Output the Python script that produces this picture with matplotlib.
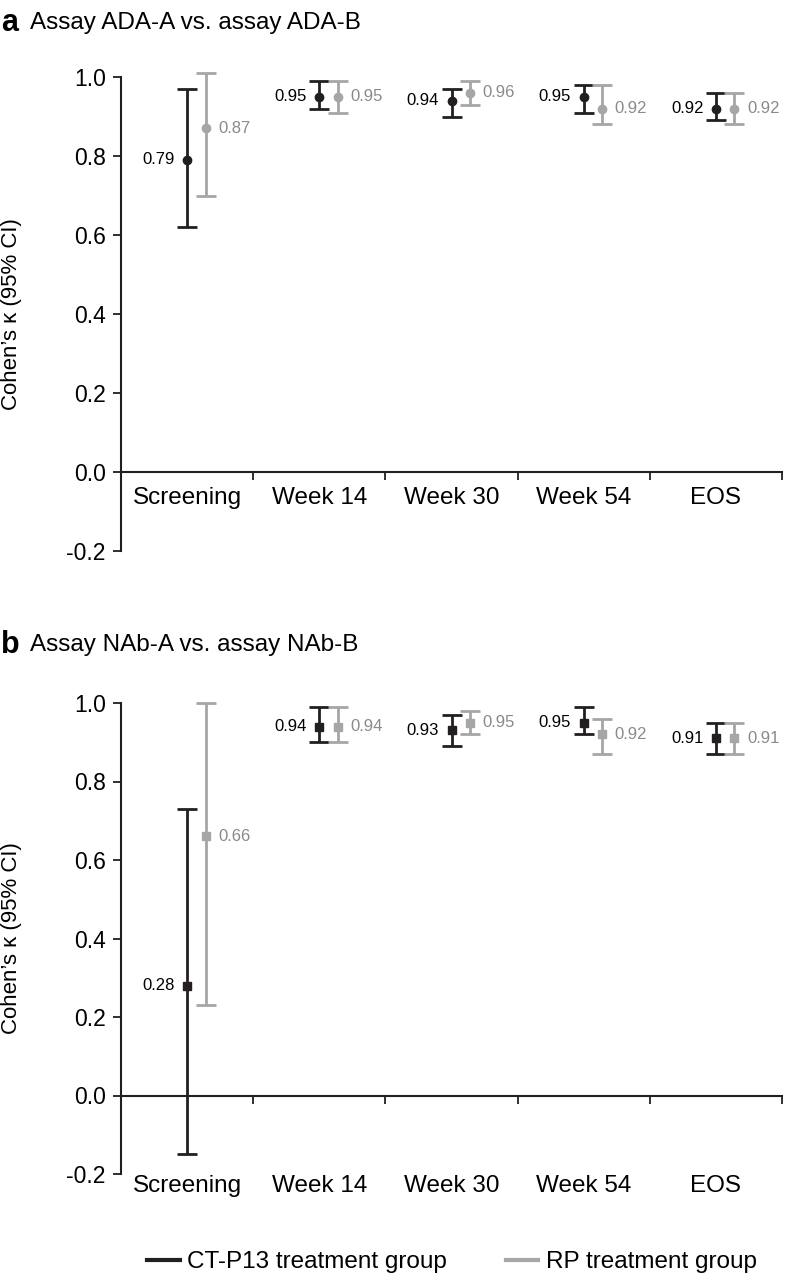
import matplotlib
matplotlib.use("Agg")
import matplotlib.pyplot as plt
from matplotlib.lines import Line2D

plt.rcParams['font.family'] = ['Liberation Sans', 'DejaVu Sans']
plt.rcParams['axes.unicode_minus'] = False

categories = ['Screening', 'Week 14', 'Week 30', 'Week 54', 'EOS']
yticks = [-0.2, 0.0, 0.2, 0.4, 0.6, 0.8, 1.0]

# panel a: ADA assays
ada_ct = [0.79, 0.95, 0.94, 0.95, 0.92]
ada_ct_lo = [0.62, 0.92, 0.90, 0.91, 0.89]
ada_ct_hi = [0.97, 0.99, 0.97, 0.98, 0.96]
ada_rp = [0.87, 0.95, 0.96, 0.92, 0.92]
ada_rp_lo = [0.70, 0.91, 0.93, 0.88, 0.88]
ada_rp_hi = [1.01, 0.99, 0.99, 0.98, 0.96]

# panel b: NAb assays
nab_ct = [0.28, 0.94, 0.93, 0.95, 0.91]
nab_ct_lo = [-0.15, 0.90, 0.89, 0.92, 0.87]
nab_ct_hi = [0.73, 0.99, 0.97, 0.99, 0.95]
nab_rp = [0.66, 0.94, 0.95, 0.92, 0.91]
nab_rp_lo = [0.23, 0.90, 0.92, 0.87, 0.87]
nab_rp_hi = [1.00, 0.99, 0.98, 0.96, 0.95]

BLACK = '#231f20'
GRAY = '#a6a6a6'
GRAY_TXT = '#8a8a8a'

W, H = 786, 1278
fig = plt.figure(figsize=(W / 100, H / 100), dpi=100)


def panel(rect, ct, ct_lo, ct_hi, rp, rp_lo, rp_hi, marker, ms, label_y):
    ax = fig.add_axes(rect)
    ax.set_xlim(0, 5)
    ax.set_ylim(-0.2, 1.0)
    n = len(categories)
    xs = [i + 0.5 for i in range(n)]
    xg = [i + 0.64 for i in range(n)]
    for x, v, lo, hi, col, tcol, side in [
            (xs, ct, ct_lo, ct_hi, BLACK, 'black', -1),
            (xg, rp, rp_lo, rp_hi, GRAY, GRAY_TXT, 1)]:
        err = [[a - b for a, b in zip(v, lo)], [b - a for a, b in zip(v, hi)]]
        eb = ax.errorbar(x, v, yerr=err, fmt=marker, color=col, ms=ms,
                         elinewidth=2.0, capsize=7, capthick=2.0, clip_on=False)
        for art in eb.lines[1] + eb.lines[2]:
            art.set_clip_on(False)
        for xi, vi in zip(x, v):
            ax.annotate(f'{vi:.2f}', (xi, vi), xytext=(9 * side, 0),
                        textcoords='offset points', color=tcol, fontsize=12,
                        ha='right' if side < 0 else 'left', va='center')
    for xi, c in zip(xs, categories):
        ax.text(xi, label_y, c, ha='center', va='center', fontsize=17.5,
                color='black')
    ax.spines['top'].set_visible(False)
    ax.spines['right'].set_visible(False)
    ax.spines['bottom'].set_position(('data', 0))
    ax.spines['bottom'].set_bounds(0, 5)
    ax.spines['left'].set_bounds(-0.2, 1.0)
    for s in ('left', 'bottom'):
        ax.spines[s].set_linewidth(1.5)
        ax.spines[s].set_color(BLACK)
    ax.set_xticks(range(n + 1))
    ax.set_xticklabels([])
    ax.tick_params(axis='x', direction='out', length=5.5, width=1.3, color=BLACK)
    ax.set_yticks(yticks)
    ax.set_yticklabels([f'{t:.1f}' for t in yticks])
    ax.tick_params(axis='y', direction='out', length=6, width=1.3, color=BLACK,
                   labelsize=16.5, pad=5)
    ax.patch.set_alpha(0)
    return ax


def ypos(px):
    return 1 - px / H


ax_a = panel([121 / W, ypos(551), 661 / W, (551 - 77) / H],
             ada_ct, ada_ct_lo, ada_ct_hi, ada_rp, ada_rp_lo, ada_rp_hi,
             'o', 6, -0.066)
ax_b = panel([121 / W, ypos(1174), 661 / W, (1174 - 703) / H],
             nab_ct, nab_ct_lo, nab_ct_hi, nab_rp, nab_rp_lo, nab_rp_hi,
             's', 5.5, -0.231)

for ax, letter, title, ty in [(ax_a, 'a', 'Assay ADA-A vs. assay ADA-B', 23),
                              (ax_b, 'b', 'Assay NAb-A vs. assay NAb-B', 645)]:
    fig.text(1 / W, ypos(ty), letter, fontsize=22, fontweight='bold', va='center')
    fig.text(30 / W, ypos(ty), title, fontsize=17.5, va='center')
    bb = ax.get_position()
    fig.text(12 / W, (bb.y0 + bb.y1) / 2, 'Cohen\u2019s \u03ba (95% CI)',
             rotation=90, ha='center', va='center', fontsize=16)

handles = [Line2D([], [], color=BLACK, lw=3), Line2D([], [], color=GRAY, lw=3)]
fig.legend(handles, ['CT-P13 treatment group', 'RP treatment group'],
           loc='center', bbox_to_anchor=(452 / W, ypos(1262)), ncol=2,
           frameon=False, fontsize=17.5, handlelength=1.35, handletextpad=0.3,
           columnspacing=2.4)

fig.savefig('out.png', dpi=100)
